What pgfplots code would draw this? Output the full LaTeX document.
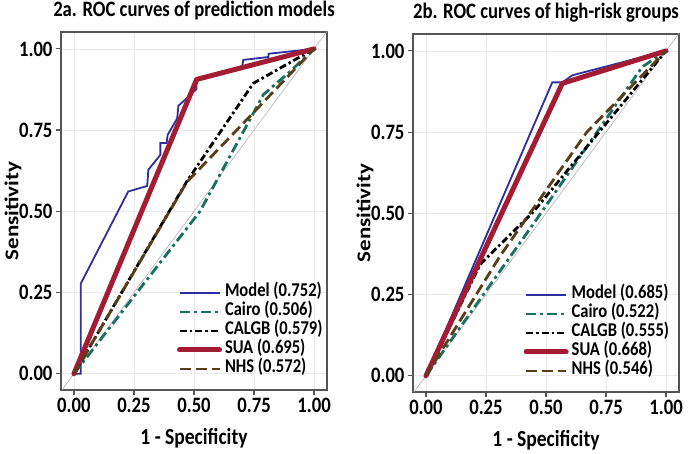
\documentclass[border=0pt]{standalone}
\usepackage{pgfplots}
\pgfplotsset{compat=1.18}
\usepackage{fontspec}
\setmainfont{Carlito}
\usepackage{graphicx}
\newcommand{\sq}[1]{\scalebox{0.85}[1]{#1}}
\newcommand{\sqv}[1]{\scalebox{1}[0.85]{#1}}

\definecolor{cModel}{RGB}{46,46,160}
\definecolor{cCairo}{RGB}{26,110,98}
\definecolor{cSUA}{RGB}{163,28,52}
\definecolor{cNHS}{RGB}{88,62,26}
\definecolor{cFrame}{RGB}{85,85,85}

\pgfplotsset{
  roc/.style={
    scale only axis, width=266pt, height=358pt,
    xmin=-0.054, xmax=1.054, ymin=-0.05, ymax=1.052,
    xtick={0,0.25,0.5,0.75,1}, ytick={0,0.25,0.5,0.75,1},
    xticklabels={\sq{0.00},\sq{0.25},\sq{0.50},\sq{0.75},\sq{1.00}},
    yticklabels={\sq{0.00},\sq{0.25},\sq{0.50},\sq{0.75},\sq{1.00}},
    tick label style={font=\fontsize{22}{24}\selectfont\bfseries},
    axis line style={cFrame, line width=1.3pt},
    tick style={cFrame, line width=1.2pt}, major tick length=5pt,
    tick align=outside, xtick pos=bottom, ytick pos=left,
    grid=major, major grid style={black!8, line width=0.7pt},
    xlabel={\sq{1 - Specificity}}, ylabel={\sqv{Sensitivity}},
    label style={font=\fontsize{23}{25}\selectfont\bfseries},
    xlabel style={at={(axis description cs:0.5,-0.135)}, anchor=center},
    ylabel style={at={(axis description cs:-0.18,0.5)}, anchor=center},
    title style={font=\fontsize{22}{25}\selectfont\bfseries, yshift=2pt},
    legend style={anchor=south east, draw=none, fill=none,
      font=\fontsize{19.5}{21}\selectfont\bfseries, row sep=5pt,
      nodes={inner sep=0pt, text height=11pt, text depth=3pt},
      column sep=3pt},
    legend cell align=left,
    legend image code/.code={\draw[##1] (0pt,0pt) -- (40pt,0pt);},
  },
  diag/.style={black!30, line width=0.6pt, forget plot},
  pModel/.style={cModel, line width=1.8pt},
  pCairo/.style={cCairo, line width=2.8pt, dash pattern=on 10pt off 4pt on 3pt off 4pt},
  pCALGB/.style={black, line width=2.8pt, dash pattern=on 7pt off 3pt on 2.5pt off 3pt},
  pSUA/.style={cSUA, line width=5pt, line cap=round, line join=round},
  pNHS/.style={cNHS, line width=2.8pt, dash pattern=on 11pt off 5pt},
}

\begin{document}
\begin{tikzpicture}
\useasboundingbox (0,0) rectangle (689pt,454pt);

\begin{axis}[roc, at={(61pt,64pt)}, anchor=south west,
  legend style={at={(0.995,0.033)}},
  title={\sq{2a. ROC curves of prediction models}}]
\addplot[diag] coordinates {(-0.06,-0.06) (1.06,1.06)};
\addplot[pModel] coordinates {
  (0,0) (0.028,0) (0.028,0.277) (0.226,0.561) (0.305,0.578) (0.31,0.628)
  (0.36,0.674) (0.36,0.71) (0.386,0.71) (0.39,0.735) (0.43,0.786)
  (0.435,0.825) (0.47,0.848) (0.51,0.876) (0.51,0.905) (0.70,0.94)
  (0.705,0.966) (0.81,0.975) (0.81,0.985) (1,1)};
\addplot[pCairo] coordinates {(0,0) (0.525,0.5) (0.79,0.86) (0.9,0.93) (1,1)};
\addplot[pCALGB] coordinates {(0,0) (0.47,0.592) (0.747,0.894) (0.845,0.935) (1,1)};
\addplot[pSUA] coordinates {(0,0) (0.511,0.906) (1,1)};
\addplot[pNHS] coordinates {(0,0) (0.47,0.59) (0.73,0.79) (1,1)};
\legend{\sq{Model (0.752)},\sq{Cairo (0.506)},\sq{CALGB (0.579)},\sq{SUA (0.695)},\sq{NHS (0.572)}}
\end{axis}

\begin{axis}[roc, at={(413pt,62pt)}, anchor=south west,
  legend style={at={(0.975,0.033)}},
  title={\sq{2b. ROC curves of high-risk groups}}]
\addplot[diag] coordinates {(-0.06,-0.06) (1.06,1.06)};
\addplot[pModel] coordinates {(0,0) (0.526,0.903) (0.568,0.903) (0.61,0.925) (1,1)};
\addplot[pCairo] coordinates {(0,0) (0.45,0.47) (0.9,0.95) (1,1)};
\addplot[pCALGB] coordinates {(0,0) (0.226,0.343) (0.449,0.506) (1,1)};
\addplot[pSUA] coordinates {(0,0) (0.568,0.9) (1,1)};
\addplot[pNHS] coordinates {(0,0) (0.31,0.37) (0.67,0.75) (1,1)};
\legend{\sq{Model (0.685)},\sq{Cairo (0.522)},\sq{CALGB (0.555)},\sq{SUA (0.668)},\sq{NHS (0.546)}}
\end{axis}
\end{tikzpicture}
\end{document}
